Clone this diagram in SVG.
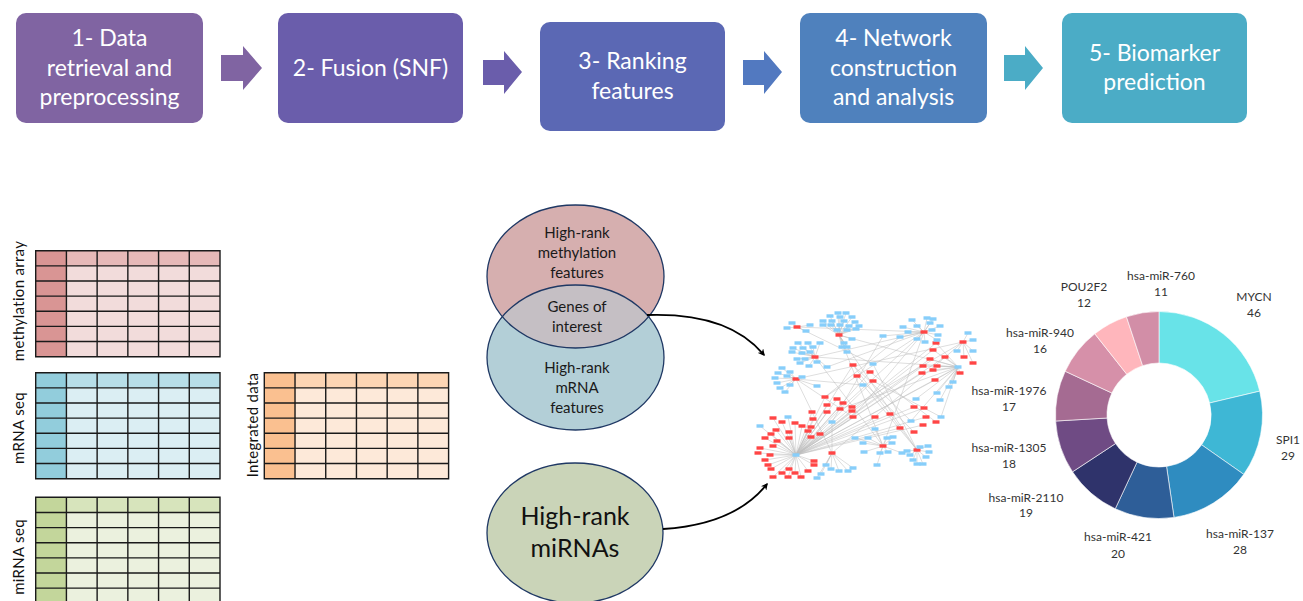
<svg xmlns="http://www.w3.org/2000/svg" xmlns:xlink="http://www.w3.org/1999/xlink" width="1303" height="601" viewBox="0 0 1303 601">
<style>
.box text{font-family:Lato,"Open Sans","Liberation Sans",sans-serif;font-size:23px;fill:#fff;text-anchor:middle}
.lbl{font-family:Lato,"Open Sans","Liberation Sans",sans-serif;font-size:15px;fill:#111;text-anchor:middle;letter-spacing:0.3px}
.venn{font-family:Lato,"Open Sans","Liberation Sans",sans-serif;font-size:15px;fill:#1a1a1a;text-anchor:middle}
.big{font-family:Lato,"Open Sans","Liberation Sans",sans-serif;font-size:25px;fill:#111;text-anchor:middle}
.pie{font-family:Lato,"Open Sans","Liberation Sans",sans-serif;font-size:12px;fill:#333;text-anchor:middle}
.grid{fill:none;stroke:#1a1a1a;stroke-width:1.4}
.b{fill:#87cefa}.r{fill:#ff4545}
.edges{fill:none;stroke:#bdbdbd;stroke-width:0.5}
.conn{fill:none;stroke:#000;stroke-width:1.8}
.ell{fill:none;stroke:#1f3864;stroke-width:1.3}
.sl{stroke:#fff;stroke-width:0.6}
</style>
<defs>
<path id="gridlines" class="grid" d="M0 0H184.3V106H0Z M30.72 0V106 M61.43 0V106 M92.15 0V106 M122.87 0V106 M153.58 0V106 M0 15.14H184.3 M0 30.29H184.3 M0 45.43H184.3 M0 60.57H184.3 M0 75.71H184.3 M0 90.86H184.3"/>
<rect id="n" x="-3.5" y="-1.7" width="7" height="3.4"/>
<clipPath id="topClip"><ellipse cx="575.5" cy="276.5" rx="88.5" ry="71.5"/></clipPath>
<marker id="ah" viewBox="0 0 10 10" refX="8" refY="5" markerWidth="7" markerHeight="7" orient="auto" markerUnits="userSpaceOnUse"><path d="M0 0L10 5L0 10L3 5Z" fill="#000"/></marker>
</defs>
<rect width="1303" height="601" fill="#fff"/>

<!-- Top process boxes -->
<g id="step1" class="box"><rect x="16" y="13" width="187" height="110" rx="10" fill="#8064a2"/><text x="109.5" y="46">1- Data</text><text x="109.5" y="76">retrieval and</text><text x="109.5" y="105">preprocessing</text></g>
<g id="step2" class="box"><rect x="278" y="13" width="185" height="110" rx="10" fill="#6a5dab"/><text x="370.5" y="76">2- Fusion (SNF)</text></g>
<g id="step3" class="box"><rect x="540" y="22" width="185" height="109" rx="10" fill="#5b68b4"/><text x="632.5" y="69">3- Ranking</text><text x="632.5" y="99">features</text></g>
<g id="step4" class="box"><rect x="800" y="13" width="187" height="110" rx="10" fill="#4f81bd"/><text x="893.5" y="46">4- Network</text><text x="893.5" y="76">construction</text><text x="893.5" y="105">and analysis</text></g>
<g id="step5" class="box"><rect x="1062" y="13" width="185" height="110" rx="10" fill="#4bacc6"/><text x="1154.5" y="61">5- Biomarker</text><text x="1154.5" y="90">prediction</text></g>

<g id="flow-arrows">
<path d="M221 55H243V46L262 68L243 90V81H221Z" fill="#8064a2"/>
<path d="M483 60H504V51L522 72L504 94V85H483Z" fill="#6a5dab"/>
<path d="M743 60H764V51L782 72L764 94V85H743Z" fill="#5279c0"/>
<path d="M1004 55H1025V46L1043 68L1025 90V81H1004Z" fill="#4bacc6"/>
</g>

<!-- Tables -->
<g id="methylation-table">
<rect x="35.7" y="250.7" width="184.3" height="106" fill="#f2dcdb"/>
<rect x="35.7" y="250.7" width="184.3" height="15.14" fill="#e6b9b8"/>
<rect x="35.7" y="250.7" width="30.72" height="106" fill="#d99594"/>
<use href="#gridlines" x="35.7" y="250.7"/>
<text class="lbl" transform="translate(24,301) rotate(-90)">methylation array</text>
</g>
<g id="mrna-table">
<rect x="35.7" y="372.7" width="184.3" height="106" fill="#dbeef3"/>
<rect x="35.7" y="372.7" width="184.3" height="15.14" fill="#b7dee8"/>
<rect x="35.7" y="372.7" width="30.72" height="106" fill="#92cddc"/>
<use href="#gridlines" x="35.7" y="372.7"/>
<text class="lbl" transform="translate(24,428) rotate(-90)">mRNA seq</text>
</g>
<g id="mirna-table">
<rect x="35.7" y="497.3" width="184.3" height="106" fill="#ebf1de"/>
<rect x="35.7" y="497.3" width="184.3" height="15.14" fill="#d7e4bc"/>
<rect x="35.7" y="497.3" width="30.72" height="106" fill="#c3d69b"/>
<use href="#gridlines" x="35.7" y="497.3"/>
<text class="lbl" transform="translate(24,557) rotate(-90)">miRNA seq</text>
</g>
<g id="integrated-table">
<rect x="264.3" y="372.7" width="184.3" height="106" fill="#fde9d9"/>
<rect x="264.3" y="372.7" width="184.3" height="15.14" fill="#fcd5b4"/>
<rect x="264.3" y="372.7" width="30.72" height="106" fill="#fac090"/>
<use href="#gridlines" x="264.3" y="372.7"/>
<text class="lbl" transform="translate(258,425) rotate(-90)">Integrated data</text>
</g>

<!-- Venn -->
<g id="venn">
<ellipse cx="575.5" cy="276.5" rx="88.5" ry="71.5" fill="#d6afaf"/>
<ellipse cx="575.5" cy="357.5" rx="88.5" ry="72.5" fill="#b3cfd7"/>
<ellipse cx="575.5" cy="357.5" rx="88.5" ry="72.5" fill="#c5bfc4" clip-path="url(#topClip)"/>
<ellipse class="ell" cx="575.5" cy="276.5" rx="88.5" ry="71.5"/>
<ellipse class="ell" cx="575.5" cy="357.5" rx="88.5" ry="72.5"/>
<text class="venn" x="577" y="238">High-rank</text>
<text class="venn" x="577" y="258">methylation</text>
<text class="venn" x="577" y="278">features</text>
<text class="venn" x="577" y="312">Genes of</text>
<text class="venn" x="577" y="332">interest</text>
<text class="venn" x="577" y="373">High-rank</text>
<text class="venn" x="577" y="393">mRNA</text>
<text class="venn" x="577" y="413">features</text>
</g>

<g id="mirna-ellipse">
<ellipse cx="575" cy="533" rx="88" ry="70" fill="#cad4b8" stroke="#1f3864" stroke-width="1.3"/>
<text class="big" x="575" y="525">High-rank</text>
<text class="big" x="575" y="557">miRNAs</text>
</g>

<g id="connectors">
<path class="conn" d="M647 315C705 313 742 328 764 355" marker-end="url(#ah)"/>
<path class="conn" d="M663 529C710 526 745 512 767 484" marker-end="url(#ah)"/>
</g>

<!-- Network -->
<g id="network">
<path class="edges" d="M797 327L792 323M797 327L787 328M797 327L806 331M797 327L810 325
M839 335L830 316M839 335L838 313M839 335L846 313M839 335L823 321M839 335L832 321M839 335L840 317M839 335L852 317M839 335L844 321M839 335L855 322M839 335L831 325M839 335L823 325M839 335L840 325M839 335L849 326M839 335L859 326M839 335L847 330M839 335L856 329M839 335L837 330M839 335L852 339M839 335L847 347M839 335L842 347M839 335L847 352M839 335L844 343
M815 357L798 343M815 357L808 343M815 357L820 343M815 357L793 348M815 357L803 348M815 357L813 347M815 357L792 352M815 357L802 353M815 357L810 352M815 357L797 359M815 357L805 359M815 357L800 363M815 357L817 362M815 357L809 366M815 357L827 367
M796 379L782 368M796 379L790 372M796 379L778 373M796 379L787 376M796 379L775 378M796 379L802 377M796 379L777 383M796 379L790 385M796 379L780 388M796 379L785 392M796 379L817 386
M924 332L912 320M924 332L927 318M924 332L933 319M924 332L903 327M924 332L917 326M924 332L930 323M924 332L940 326M924 332L908 332M924 332L932 330M924 332L938 335M924 332L917 339M924 332L925 342M924 332L937 340M924 332L900 337M924 332L883 336
M963 342L968 333M963 342L973 340M963 342L957 351M963 342L973 351M963 342L964 357M963 342L973 363
M958 367L936 343M958 367L933 350M958 367L930 359M958 367L923 366M958 367L922 373M958 367L933 370M958 367L937 366M958 367L945 357M958 367L935 380M958 367L960 373M958 367L949 387M958 367L953 382M958 367L937 393M958 367L940 400M958 367L916 399M958 367L941 417M958 367L911 421
M796 455L825 397M796 455L837 399M796 455L827 405M796 455L840 409M796 455L843 403M796 455L852 407M796 455L852 411M796 455L853 417M796 455L812 412M796 455L827 412M796 455L813 419M796 455L811 427M796 455L808 431M796 455L820 434M796 455L811 437M796 455L802 426M796 455L795 423M796 455L782 422M796 455L773 418M796 455L776 430M796 455L771 434M796 455L789 432M796 455L789 438M796 455L777 441M796 455L773 446M796 455L765 438M796 455L760 448M796 455L770 455M796 455L758 453M796 455L765 460M796 455L768 465M796 455L771 469M796 455L773 477M796 455L782 473M796 455L788 477M796 455L789 469M796 455L795 473M796 455L801 477M796 455L808 471M796 455L814 465M796 455L814 461M796 455L760 426M796 455L788 417
M796 455L933 350M796 455L930 359M796 455L923 366M796 455L922 373M796 455L936 343M796 455L945 357M796 455L935 380M796 455L914 407M796 455L924 408M796 455L900 428M796 455L853 365M796 455L873 381M796 455L870 372M796 455L958 367M796 455L926 417M796 455L923 425M796 455L890 414M796 455L875 417
M832 453L853 468M832 453L848 471M832 453L839 471M832 453L831 469M832 453L826 465M832 453L821 474M832 453L817 478M832 453L832 422
M883 446L875 429M883 446L887 438M883 446L893 437M883 446L892 443M883 446L880 453M883 446L888 452M883 446L864 452M883 446L877 465M883 446L868 438M883 446L863 443M883 446L855 438M883 446L902 453
M917 450L910 455M917 450L920 447M917 450L928 446M917 450L926 457M917 450L913 460M917 450L923 464M917 450L907 451M917 450L929 452M917 450L917 464
M839 335L883 446M839 335L917 450M797 327L924 332M815 357L924 332M796 379L832 453M796 379L853 417M815 357L883 446M873 364L917 450M924 332L853 417M924 332L840 409M839 335L958 367M963 342L796 379M883 336L832 422M900 337L825 397M815 357L958 367M832 453L963 342M917 450L853 365M883 446L924 332M863 385L917 450M827 367L924 332M857 376L914 432M870 372L936 422M797 327L873 364M853 365L911 421M873 381L941 417M796 379L863 385M840 409L958 367M852 407L963 342M825 397L924 332"/>
<g class="r">
<use href="#n" x="797" y="327"/><use href="#n" x="839" y="335"/><use href="#n" x="815" y="357"/><use href="#n" x="796" y="379"/><use href="#n" x="924" y="332"/><use href="#n" x="963" y="342"/><use href="#n" x="964" y="357"/><use href="#n" x="973" y="363"/>
<use href="#n" x="936" y="343"/><use href="#n" x="933" y="350"/><use href="#n" x="930" y="359"/><use href="#n" x="923" y="366"/><use href="#n" x="922" y="373"/><use href="#n" x="933" y="370"/><use href="#n" x="937" y="366"/><use href="#n" x="945" y="357"/><use href="#n" x="935" y="380"/><use href="#n" x="960" y="373"/>
<use href="#n" x="853" y="365"/><use href="#n" x="870" y="372"/><use href="#n" x="857" y="376"/><use href="#n" x="873" y="381"/><use href="#n" x="875" y="417"/><use href="#n" x="890" y="414"/><use href="#n" x="900" y="428"/><use href="#n" x="914" y="407"/><use href="#n" x="924" y="408"/><use href="#n" x="926" y="417"/><use href="#n" x="923" y="425"/><use href="#n" x="914" y="432"/><use href="#n" x="936" y="422"/>
<use href="#n" x="825" y="397"/><use href="#n" x="837" y="399"/><use href="#n" x="827" y="405"/><use href="#n" x="840" y="409"/><use href="#n" x="843" y="403"/><use href="#n" x="852" y="407"/><use href="#n" x="852" y="411"/><use href="#n" x="853" y="417"/><use href="#n" x="812" y="412"/><use href="#n" x="827" y="412"/><use href="#n" x="813" y="419"/><use href="#n" x="811" y="427"/><use href="#n" x="808" y="431"/><use href="#n" x="820" y="434"/><use href="#n" x="811" y="437"/><use href="#n" x="802" y="426"/><use href="#n" x="795" y="423"/><use href="#n" x="782" y="422"/><use href="#n" x="773" y="418"/><use href="#n" x="776" y="430"/><use href="#n" x="771" y="434"/><use href="#n" x="789" y="432"/><use href="#n" x="789" y="438"/><use href="#n" x="777" y="441"/><use href="#n" x="773" y="446"/><use href="#n" x="765" y="438"/><use href="#n" x="760" y="448"/><use href="#n" x="770" y="455"/><use href="#n" x="758" y="453"/><use href="#n" x="765" y="460"/><use href="#n" x="768" y="465"/><use href="#n" x="771" y="469"/><use href="#n" x="773" y="477"/><use href="#n" x="782" y="473"/><use href="#n" x="788" y="477"/><use href="#n" x="789" y="469"/><use href="#n" x="795" y="473"/><use href="#n" x="801" y="477"/><use href="#n" x="808" y="471"/><use href="#n" x="814" y="465"/><use href="#n" x="814" y="461"/>
<use href="#n" x="832" y="453"/><use href="#n" x="883" y="446"/><use href="#n" x="917" y="450"/>
</g>
<g class="b">
<use href="#n" x="792" y="323"/><use href="#n" x="787" y="328"/><use href="#n" x="806" y="331"/><use href="#n" x="810" y="325"/>
<use href="#n" x="830" y="316"/><use href="#n" x="838" y="313"/><use href="#n" x="846" y="313"/><use href="#n" x="823" y="321"/><use href="#n" x="832" y="321"/><use href="#n" x="840" y="317"/><use href="#n" x="852" y="317"/><use href="#n" x="844" y="321"/><use href="#n" x="855" y="322"/><use href="#n" x="831" y="325"/><use href="#n" x="823" y="325"/><use href="#n" x="840" y="325"/><use href="#n" x="849" y="326"/><use href="#n" x="859" y="326"/><use href="#n" x="847" y="330"/><use href="#n" x="856" y="329"/><use href="#n" x="837" y="330"/><use href="#n" x="852" y="339"/><use href="#n" x="847" y="347"/><use href="#n" x="842" y="347"/><use href="#n" x="847" y="352"/><use href="#n" x="844" y="343"/>
<use href="#n" x="798" y="343"/><use href="#n" x="808" y="343"/><use href="#n" x="820" y="343"/><use href="#n" x="793" y="348"/><use href="#n" x="803" y="348"/><use href="#n" x="813" y="347"/><use href="#n" x="792" y="352"/><use href="#n" x="802" y="353"/><use href="#n" x="810" y="352"/><use href="#n" x="797" y="359"/><use href="#n" x="805" y="359"/><use href="#n" x="800" y="363"/><use href="#n" x="817" y="362"/><use href="#n" x="809" y="366"/><use href="#n" x="827" y="367"/>
<use href="#n" x="782" y="368"/><use href="#n" x="790" y="372"/><use href="#n" x="778" y="373"/><use href="#n" x="787" y="376"/><use href="#n" x="775" y="378"/><use href="#n" x="802" y="377"/><use href="#n" x="777" y="383"/><use href="#n" x="790" y="385"/><use href="#n" x="780" y="388"/><use href="#n" x="785" y="392"/><use href="#n" x="817" y="386"/>
<use href="#n" x="912" y="320"/><use href="#n" x="927" y="318"/><use href="#n" x="933" y="319"/><use href="#n" x="903" y="327"/><use href="#n" x="917" y="326"/><use href="#n" x="930" y="323"/><use href="#n" x="940" y="326"/><use href="#n" x="908" y="332"/><use href="#n" x="932" y="330"/><use href="#n" x="938" y="335"/><use href="#n" x="917" y="339"/><use href="#n" x="925" y="342"/><use href="#n" x="937" y="340"/><use href="#n" x="900" y="337"/><use href="#n" x="883" y="336"/>
<use href="#n" x="968" y="333"/><use href="#n" x="973" y="340"/><use href="#n" x="957" y="351"/><use href="#n" x="973" y="351"/>
<use href="#n" x="958" y="367"/><use href="#n" x="949" y="387"/><use href="#n" x="953" y="382"/><use href="#n" x="937" y="393"/><use href="#n" x="940" y="400"/><use href="#n" x="916" y="399"/><use href="#n" x="941" y="417"/><use href="#n" x="911" y="421"/>
<use href="#n" x="760" y="426"/><use href="#n" x="788" y="417"/><use href="#n" x="832" y="422"/><use href="#n" x="863" y="385"/><use href="#n" x="873" y="364"/><use href="#n" x="855" y="438"/><use href="#n" x="863" y="443"/><use href="#n" x="868" y="438"/><use href="#n" x="875" y="429"/><use href="#n" x="877" y="465"/><use href="#n" x="853" y="468"/><use href="#n" x="848" y="471"/><use href="#n" x="839" y="471"/><use href="#n" x="831" y="469"/><use href="#n" x="826" y="465"/><use href="#n" x="821" y="474"/><use href="#n" x="817" y="478"/><use href="#n" x="864" y="452"/><use href="#n" x="902" y="453"/><use href="#n" x="880" y="453"/><use href="#n" x="888" y="452"/><use href="#n" x="887" y="438"/><use href="#n" x="893" y="437"/><use href="#n" x="892" y="443"/>
<use href="#n" x="910" y="455"/><use href="#n" x="920" y="447"/><use href="#n" x="928" y="446"/><use href="#n" x="926" y="457"/><use href="#n" x="913" y="460"/><use href="#n" x="923" y="464"/><use href="#n" x="907" y="451"/><use href="#n" x="929" y="452"/><use href="#n" x="917" y="464"/>
<use href="#n" x="796" y="455"/>
</g>
</g>

<!-- Donut chart -->
<g id="donut">
<path class="sl" fill="#68e3e8" d="M1159 311.5A103.5 103.5 0 0 1 1259.71 391.13L1209.6 403.01A52 52 0 0 0 1159 363Z"/>
<path class="sl" fill="#3eb7d5" d="M1259.71 391.13A103.5 103.5 0 0 1 1243.78 474.37L1201.6 444.83A52 52 0 0 0 1209.6 403.01Z"/>
<path class="sl" fill="#2f8cc0" d="M1243.78 474.37A103.5 103.5 0 0 1 1174 517.41L1166.54 466.45A52 52 0 0 0 1201.6 444.83Z"/>
<path class="sl" fill="#2e5e98" d="M1174 517.41A103.5 103.5 0 0 1 1115.26 508.8L1137.02 462.13A52 52 0 0 0 1166.54 466.45Z"/>
<path class="sl" fill="#2f336b" d="M1115.26 508.8A103.5 103.5 0 0 1 1072.53 471.87L1115.55 443.57A52 52 0 0 0 1137.02 462.13Z"/>
<path class="sl" fill="#6f4b84" d="M1072.53 471.87A103.5 103.5 0 0 1 1055.67 421.02L1107.09 418.02A52 52 0 0 0 1115.55 443.57Z"/>
<path class="sl" fill="#a56b92" d="M1055.67 421.02A103.5 103.5 0 0 1 1065.2 371.26L1111.87 393.02A52 52 0 0 0 1107.09 418.02Z"/>
<path class="sl" fill="#d690a9" d="M1065.2 371.26A103.5 103.5 0 0 1 1094.81 333.81L1126.75 374.21A52 52 0 0 0 1111.87 393.02Z"/>
<path class="sl" fill="#ffb6bc" d="M1094.81 333.81A103.5 103.5 0 0 1 1126.44 316.75L1142.64 365.64A52 52 0 0 0 1126.75 374.21Z"/>
<path class="sl" fill="#d28ea7" d="M1126.44 316.75A103.5 103.5 0 0 1 1159 311.5L1159 363A52 52 0 0 0 1142.64 365.64Z"/>
<text class="pie" x="1161" y="280">hsa-miR-760</text><text class="pie" x="1161" y="296">11</text>
<text class="pie" x="1084" y="291">POU2F2</text><text class="pie" x="1084" y="307">12</text>
<text class="pie" x="1254" y="301">MYCN</text><text class="pie" x="1254" y="317">46</text>
<text class="pie" x="1040" y="337">hsa-miR-940</text><text class="pie" x="1040" y="353">16</text>
<text class="pie" x="1009" y="395">hsa-miR-1976</text><text class="pie" x="1009" y="411">17</text>
<text class="pie" x="1288" y="444">SPI1</text><text class="pie" x="1288" y="460">29</text>
<text class="pie" x="1009" y="452">hsa-miR-1305</text><text class="pie" x="1009" y="468">18</text>
<text class="pie" x="1026" y="502">hsa-miR-2110</text><text class="pie" x="1026" y="517">19</text>
<text class="pie" x="1118" y="541">hsa-miR-421</text><text class="pie" x="1118" y="558">20</text>
<text class="pie" x="1240" y="538">hsa-miR-137</text><text class="pie" x="1240" y="554">28</text>
</g>
</svg>
